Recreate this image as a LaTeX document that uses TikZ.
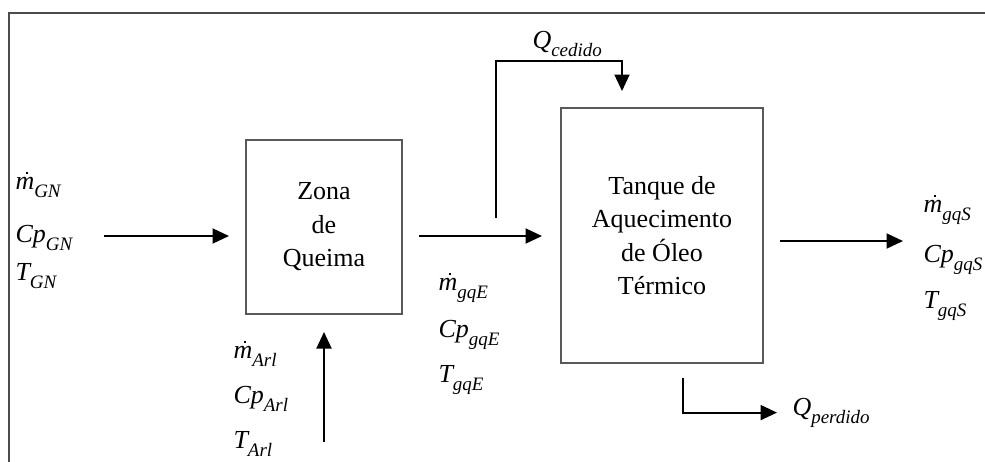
\documentclass[tikz,border=0pt]{standalone}
\usepackage{fontspec}
\setmainfont{Liberation Serif}
\usetikzlibrary{arrows.meta, calc}
% dotted m (mass flow) and lowered italic subscript
\newcommand{\mdt}{\ooalign{m\cr\hidewidth\kern0.16em\rule[0.56em]{0.1em}{0.1em}\hidewidth\cr}}
\newcommand{\sbt}[1]{\raisebox{-0.32em}{\fontsize{7.6}{8}\selectfont\itshape #1}}

\begin{document}
\begin{tikzpicture}[x={(0.4pt,0)}, y={(0,-0.4pt)},
  box/.style={draw=black!65, line width=0.8pt, align=center, font=\fontsize{10.4}{13.4}\selectfont},
  flow/.style={-{Triangle[length=6.6pt, width=6pt]}, line width=0.8pt},
  lbl/.style={anchor=base west, inner sep=0pt, font=\fontsize{10.4}{12}\selectfont\itshape}]
  \useasboundingbox (0,0) rectangle (985,461);
  \clip (0,0) rectangle (985,461);

  % Frame
  \draw[black!70, line width=0.8pt] (9,480) |- (1000,13);

  % Blocks
  \node[box, minimum width=62.4pt, minimum height=69.6pt] (zona) at (324,227) {Zona\\de\\Queima};
  \node[box, minimum width=80.8pt, minimum height=102pt] (tank) at (662,235.5) {Tanque de\\Aquecimento\\de Óleo\\Térmico};

  % Natural gas inlet
  \node[lbl] (mgn) at (15,189) {\mdt\sbt{GN}};
  \node[lbl] (cgn) at (15,242) {Cp\sbt{GN}};
  \node[lbl] (tgn) at (15,280) {T\sbt{GN}};
  \coordinate (gnin) at (104,236);
  \draw[flow, shorten >=6.4pt] (gnin) -- (gnin -| zona.west);

  % Air inlet
  \node[lbl] (mar) at (233,358) {\mdt\sbt{Arl}};
  \node[lbl] (car) at (233,403) {Cp\sbt{Arl}};
  \node[lbl] (tar) at (233,448) {T\sbt{Arl}};
  \coordinate (arin) at (324,442);
  \draw[flow, shorten >=6.8pt] (arin) -- (zona.south);

  % Combustion gas to tank
  \draw[flow, shorten <=6.4pt, shorten >=7.2pt] (zona.east |- gnin) -- (tank.west |- gnin);
  \node[lbl] (mge) at (438,290) {\mdt\sbt{gqE}};
  \node[lbl] (cge) at (438,337) {Cp\sbt{gqE}};
  \node[lbl] (tge) at (438,382) {T\sbt{gqE}};

  % Heat given
  \node[lbl] (qced) at (532,48) {Q\sbt{cedido}};
  \coordinate (cedA) at (496,218);
  \coordinate (cedB) at (622,61);
  \draw[flow, shorten >=6.4pt] (cedA) |- (cedB) -- (cedB |- tank.north);

  % Outlet
  \coordinate (outE) at (903,241);
  \draw[flow, shorten <=6.4pt] (tank.east |- outE) -- (outE);
  \node[lbl] (mgs) at (923,212) {\mdt\sbt{gqS}};
  \node[lbl] (cgs) at (923,262) {Cp\sbt{gqS}};
  \node[lbl] (tgs) at (923,308) {T\sbt{gqS}};

  % Heat lost
  \node[lbl] (qperd) at (792,415) {Q\sbt{perdido}};
  \coordinate (perdA) at (683,378);
  \draw[flow, shorten >=6pt] (perdA) |- (qperd.west);
\end{tikzpicture}
\end{document}
